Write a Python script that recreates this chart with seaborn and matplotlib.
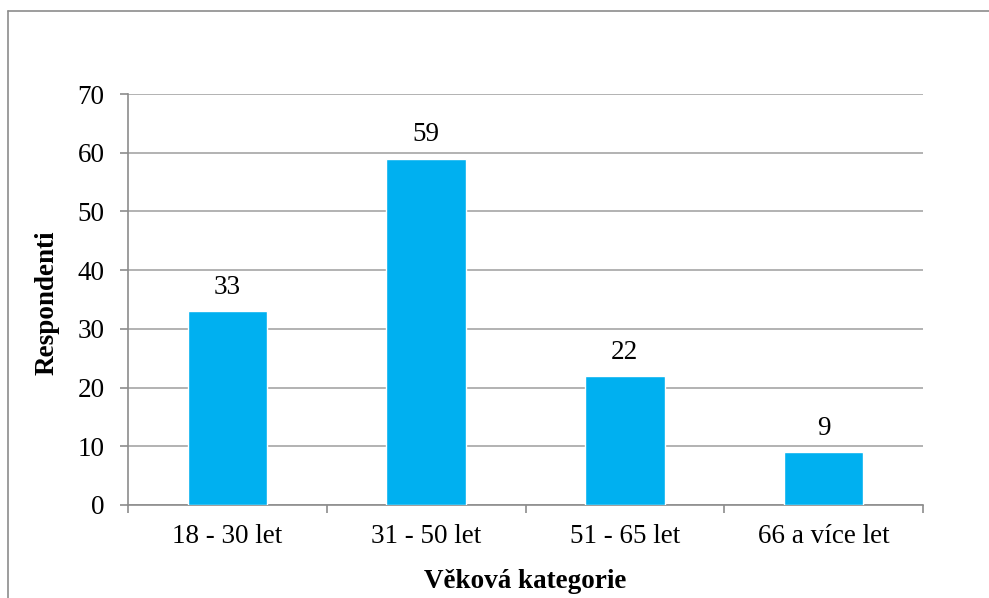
import matplotlib
matplotlib.use("Agg")
import matplotlib.pyplot as plt
from matplotlib.lines import Line2D
import seaborn as sns
import pandas as pd

categories = ["18 - 30 let", "31 - 50 let", "51 - 65 let", "66 a více let"]
values = [33, 59, 22, 9]
y_ticks = [0, 10, 20, 30, 40, 50, 60, 70]

sns.set_theme(style="white")
plt.rcParams["font.family"] = ["Liberation Serif", "DejaVu Serif"]

df = pd.DataFrame({"kategorie": categories, "respondenti": values})

fig = plt.figure(figsize=(9.89, 5.98), dpi=100)
ax = fig.add_axes([128 / 989, 1 - 505 / 598, (923 - 128) / 989, (505 - 94) / 598])

sns.barplot(data=df, x="kategorie", y="respondenti", color="#00B0F0",
            width=0.4, saturation=1, ax=ax, zorder=3)

grid_col = "#A6A6A6"
axis_col = "#8C8C8C"
fs = 19.5
tick_len = 5.8
ax.set_ylim(0, 70)
ax.set_xlim(-0.5, len(categories) - 0.5)
ax.set_yticks(y_ticks)
ax.yaxis.grid(True, color=grid_col, linewidth=1.2, zorder=0)
ax.set_axisbelow(True)

for side in ["top", "right"]:
    ax.spines[side].set_visible(False)
for side in ["left", "bottom"]:
    ax.spines[side].set_color(axis_col)
    ax.spines[side].set_linewidth(1.2)

# category boundary ticks on the x axis
ax.set_xticks([i - 0.5 for i in range(len(categories) + 1)], minor=True)
ax.tick_params(axis="x", which="minor", length=tick_len, width=1.2, color=axis_col,
               direction="out", bottom=True)
ax.tick_params(axis="x", which="major", length=0, pad=14, labelsize=fs, labelcolor="black")
ax.tick_params(axis="y", length=tick_len, width=1.2, color=axis_col, direction="out",
               pad=11, labelsize=fs, labelcolor="black", left=True)

ax.set_xlabel("Věková kategorie", fontsize=fs, fontweight="bold", color="black")
ax.set_ylabel("Respondenti", fontsize=fs, fontweight="bold", color="black")
ax.xaxis.set_label_coords((525 - 128) / 795, (505 - 569) / 411)
ax.yaxis.set_label_coords((60 - 128) / 795, (505 - 303) / 411)

for container in ax.containers:
    ax.bar_label(container, labels=[str(v) for v in values], padding=8,
                 fontsize=fs, color="black")

# outer chart frame (top and left edges visible)
fig.add_artist(Line2D([8 / 989, 1.0], [1 - 11 / 598] * 2, color=axis_col, linewidth=1.2,
                      transform=fig.transFigure))
fig.add_artist(Line2D([8 / 989] * 2, [0.0, 1 - 11 / 598], color=axis_col, linewidth=1.2,
                      transform=fig.transFigure))

fig.savefig("out.png", dpi=100, facecolor="white")
